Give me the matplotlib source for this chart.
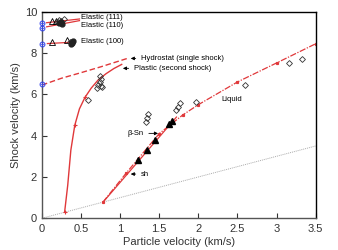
import matplotlib
matplotlib.use("Agg")
import matplotlib.pyplot as plt

plt.rcParams['font.family'] = ['Liberation Sans', 'DejaVu Sans']

# --- data ---
plastic_u = [0.29, 0.33, 0.37, 0.42, 0.48, 0.55, 0.63, 0.72, 0.82, 0.92, 1.02]
plastic_v = [0.29, 1.6, 3.3, 4.5, 5.3, 5.85, 6.3, 6.7, 7.0, 7.25, 7.45]

hydro_u = [0.0, 0.25, 0.5, 0.75, 1.1]
hydro_v = [6.45, 6.78, 7.05, 7.33, 7.75]

liquid_u = [0.78, 1.08, 1.5, 1.8, 2.0, 2.5, 3.0, 3.5]
liquid_v = [0.78, 2.2, 4.1, 5.0, 5.5, 6.6, 7.52, 8.45]

betasn_u = [0.80, 1.72]
betasn_v = [0.86, 4.9]

ref_u = [0.0, 3.5]
ref_v = [0.0, 3.5]

el111_u = [0.06, 0.48]
el111_v = [9.47, 9.65]
el110_u = [0.06, 0.48]
el110_v = [9.27, 9.57]
el100_u = [0.07, 0.37]
el100_v = [8.46, 8.52]

tri_open_u = [0.13, 0.175, 0.13, 0.32]
tri_open_v = [9.54, 9.56, 8.53, 8.62]

dia_open_u = [0.22, 0.25, 0.28, 0.20, 0.36, 0.59, 0.70, 0.72, 0.74, 0.75, 0.74, 0.76, 0.77,
              1.33, 1.34, 1.35, 1.71, 1.74, 1.77, 1.97, 2.59, 3.16, 3.32]
dia_open_v = [9.62, 9.55, 9.65, 9.5, 8.55, 5.72, 6.3, 6.45, 6.6, 6.75, 6.88, 6.42, 6.35,
              4.65, 4.85, 5.05, 5.24, 5.4, 5.57, 5.64, 6.45, 7.5, 7.7]

dot_u = [0.22, 0.24, 0.26, 0.37, 0.38, 0.39, 0.40]
dot_v = [9.45, 9.5, 9.42, 8.45, 8.55, 8.5, 8.6]

tri_fill_u = [1.23, 1.34, 1.45, 1.62, 1.66]
tri_fill_v = [2.82, 3.3, 3.8, 4.55, 4.72]

blue_u = [0.0, 0.0, 0.0, 0.0]
blue_v = [9.44, 9.22, 8.42, 6.49]

xticks = [0, 0.5, 1, 1.5, 2, 2.5, 3, 3.5]
xticklabels = ["0", "0.5", "1", "1.5", "2", "2.5", "3", "3.5"]
yticks = [0, 2, 4, 6, 8, 10]

red = '#e0383a'

fig = plt.figure(figsize=(3.38, 2.5), dpi=100)
ax = fig.add_axes([0.124, 0.127, 0.81, 0.826])

ax.plot(ref_u, ref_v, color='#aaaaaa', lw=0.7, ls=(0, (1, 1)))
ax.plot(plastic_u, plastic_v, color=red, lw=1.0)
ax.plot([plastic_u[0], plastic_u[3], plastic_u[5]], [plastic_v[0], plastic_v[3], plastic_v[5]],
        ls='none', marker='+', ms=2.5, color=red, mew=0.8)
ax.plot(hydro_u, hydro_v, color=red, lw=1.0, ls=(0, (4, 2)))
ax.plot(liquid_u, liquid_v, color=red, lw=0.9, ls=(0, (5, 1.2, 1, 1.2)),
        marker='s', ms=1.3, mec=red, mfc=red)
ax.plot(betasn_u, betasn_v, color=red, lw=0.9)

ax.plot(el111_u, el111_v, color=red, lw=0.9)
ax.plot(el110_u, el110_v, color=red, lw=0.9)
ax.plot(el100_u, el100_v, color=red, lw=0.9)

ax.plot(tri_open_u, tri_open_v, ls='none', marker='^', ms=4, mfc='none', mec='black', mew=0.6)
ax.plot(dia_open_u, dia_open_v, ls='none', marker='D', ms=3, mfc='none', mec='#333333', mew=0.6)
ax.plot(dot_u, dot_v, ls='none', marker='o', ms=3.5, mfc='#222222', mec='#222222')
ax.plot(tri_fill_u, tri_fill_v, ls='none', marker='^', ms=4.5, mfc='black', mec='black')
ax.plot(blue_u, blue_v, ls='none', marker='o', ms=3.5, mfc='none', mec='#3344ee', mew=0.7,
        clip_on=False, zorder=5)
ax.plot(blue_u, blue_v, ls='none', marker='+', ms=3.5, mec='#3344ee', mew=0.5,
        clip_on=False, zorder=5)

fs = 5.5
ax.text(0.5, 9.7, "Elastic (111)", fontsize=fs, va='center')
ax.text(0.5, 9.33, "Elastic (110)", fontsize=fs, va='center')
ax.text(0.5, 8.55, "Elastic (100)", fontsize=fs, va='center')
ax.text(2.3, 5.77, "Liquid", fontsize=fs, va='center')

arr = dict(arrowstyle='-|>', color='black', lw=0.6, mutation_scale=5)
ax.annotate("Hydrostat (single shock)", xy=(1.1, 7.74), xytext=(1.27, 7.74),
            fontsize=fs, va='center', arrowprops=arr)
ax.annotate("Plastic (second shock)", xy=(1.0, 7.26), xytext=(1.18, 7.26),
            fontsize=fs, va='center', arrowprops=arr)
ax.annotate("β-Sn", xy=(1.52, 4.11), xytext=(1.09, 4.11),
            fontsize=fs, va='center', arrowprops=arr)
ax.annotate("sh", xy=(1.1, 2.14), xytext=(1.27, 2.14),
            fontsize=fs, va='center', arrowprops=arr)

ax.set_xlim(0, 3.5)
ax.set_ylim(0, 10)
ax.set_xticks(xticks)
ax.set_xticklabels(xticklabels)
ax.set_yticks(yticks)
ax.tick_params(direction='in', length=3.5, width=0.8, labelsize=8, colors='#333333')
ax.tick_params(axis='x', pad=4)
for s in ax.spines.values():
    s.set_linewidth(1.0)
ax.spines['left'].set_color('#555555')
ax.spines['bottom'].set_color('#555555')
ax.set_xlabel("Particle velocity (km/s)", fontsize=8, color='#333333', labelpad=2)
ax.set_ylabel("Shock velocity (km/s)", fontsize=8, color='#333333', labelpad=3)

fig.savefig("out.png", dpi=100)
